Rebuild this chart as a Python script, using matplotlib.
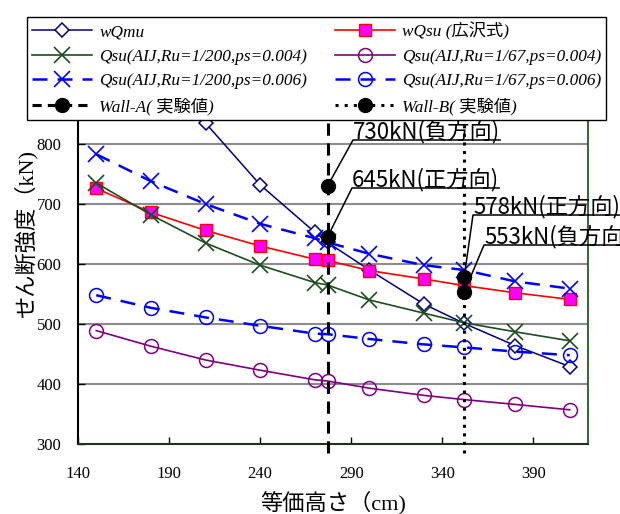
import numpy as np
import matplotlib
matplotlib.use('Agg')
import matplotlib.pyplot as plt
from matplotlib.lines import Line2D
from matplotlib.text import Text

# equivalent height (cm)
h = [150, 180, 210, 240, 270, 277, 300, 330, 352, 380, 410]

wQmu = [1173, 978, 835, 732, 653, 636, 590, 533, 501, 464, 429]
wQsu = [726, 686, 656, 630, 608, 606, 589, 575, 564, 552, 541]
qsu_200_004 = [735, 682, 635, 598, 569, 565, 540, 518, 502, 487, 472]
qsu_67_004 = [489, 463, 440, 423, 407, 405, 393, 381, 374, 366, 357]
qsu_200_006 = [783, 738, 700, 667, 643, 636, 617, 598, 590, 571, 559]
qsu_67_006 = [548, 527, 511, 497, 484, 483, 475, 466, 461, 454, 448]

# test results
wallA_h = 277
wallA_q = [730, 645]
wallB_h = 352
wallB_q = [578, 553]
wall_txt = ['730kN(負方向)', '645kN(正方向)', '578kN(正方向)', '553kN(負方向)']

labels = ['wQmu', 'wQsu (広沢式)', 'Qsu(AIJ,Ru=1/200,ps=0.004)', 'Qsu(AIJ,Ru=1/67,ps=0.004)',
          'Qsu(AIJ,Ru=1/200,ps=0.006)', 'Qsu(AIJ,Ru=1/67,ps=0.006)', 'Wall-A( 実験値)', 'Wall-B( 実験値)']

xticks = [140, 190, 240, 290, 340, 390]
yticks = [300, 400, 500, 600, 700, 800]

serif_jp = ['Liberation Serif', 'Noto Sans CJK JP']
gothic = ['Noto Sans CJK JP', 'DejaVu Sans']

W, H = 620, 514
fig = plt.figure(figsize=(6.2, 5.14), dpi=100)
ax = fig.add_axes([78/W, 70/H, 510/W, 420/H])

for y in [400, 500, 600, 700, 800, 900]:
    ax.axhline(y, color='#8c8c8c', lw=1.5, zorder=1)

l1, = ax.plot(h, wQmu, color='#000080', lw=1.1, marker='D', ms=7, mfc='white', mec='#000080', mew=1.1)
l2, = ax.plot(h, wQsu, color='#ff0000', lw=1.2, marker='s', ms=8, mfc='#ff00ff', mec='#ff0000', mew=1.0)
l3, = ax.plot(h, qsu_200_004, color='#1e4d1e', lw=1.2, marker='x', ms=11, mew=1.2)
l4, = ax.plot(h, qsu_67_004, color='#800080', lw=1.2, marker='o', ms=10, mfc='none', mew=1.1)
l5, = ax.plot(h, qsu_200_006, color='#0000ff', lw=1.8, ls=(0, (6, 4)), marker='x', ms=11, mew=1.2)
l6, = ax.plot(h, qsu_67_006, color='#0000ff', lw=1.8, ls=(0, (6, 4)), marker='o', ms=10, mfc='none', mew=1.1)

# vertical lines at the wall heights
ax.plot([wallA_h, wallA_h], [285, 1000], color='black', lw=2.2, ls=(0, (4, 2.5)), clip_on=False, zorder=3)
ax.plot([wallB_h, wallB_h], [285, 1000], color='black', lw=2.2, ls=(0, (1, 1.8)), clip_on=False, zorder=3)
ax.plot([wallA_h] * 2, wallA_q, ls='none', marker='o', ms=10, color='black', zorder=6)
ax.plot([wallB_h] * 2, wallB_q, ls='none', marker='o', ms=10, color='black', zorder=6)
l7 = Line2D([], [], color='black', lw=2.2, ls=(0, (3, 2)), marker='o', ms=10)
l8 = Line2D([], [], color='black', lw=2.2, ls=(0, (1, 2)), marker='o', ms=10)

ax.set_xlim(140, 420)
ax.set_ylim(300, 1000)
ax.set_xticks(xticks)
ax.set_yticks(yticks)
ax.tick_params(direction='in', length=5, width=1)
ax.tick_params(axis='x', pad=16)
ax.tick_params(axis='y', pad=12)
for t in ax.get_xticklabels() + ax.get_yticklabels():
    t.set_family(serif_jp)
    t.set_fontsize(12)

ax.spines['left'].set_color('black')
ax.spines['bottom'].set_color('#1e331e')
ax.spines['right'].set_color('#3a6a3a')
for s in ax.spines.values():
    s.set_linewidth(1.5)

ax.set_xlabel('等価高さ（cm)', family=serif_jp, fontsize=16, labelpad=6)
ax.set_ylabel('せん断強度（kN)', family=serif_jp, fontsize=16)
ax.yaxis.set_label_coords(-0.080, 0.5)

# annotation texts: baseline position in pixels from top-left
txt_pos = [(353, 138), (352, 186), (473, 213), (484, 243)]
pts = [(wallA_h, wallA_q[0]), (wallA_h, wallA_q[1]), (wallB_h, wallB_q[0]), (wallB_h, wallB_q[1])]
anns = []
for txt, (tx, ty) in zip(wall_txt, txt_pos):
    a = fig.text(tx / W, 1 - ty / H, txt, fontsize=16, family=gothic, ha='left', va='baseline', zorder=7)
    anns.append(a)

handles = [l1, l3, l5, l7, l2, l4, l6, l8]
leg_labels = [labels[0], labels[2], labels[4], labels[6], labels[1], labels[3], labels[5], labels[7]]
leg = fig.legend(handles, leg_labels, loc='upper left', ncol=2,
                 bbox_to_anchor=(27/W, 1 - 17/H), borderaxespad=0,
                 prop=dict(family=serif_jp, style='italic', size=12.4), handlelength=3.5,
                 handletextpad=0.4, labelspacing=0.48, columnspacing=1.6, fancybox=False,
                 framealpha=1, edgecolor='black', borderpad=0.3)
leg.get_frame().set_linewidth(1.0)

# leader lines + underlines
fig.canvas.draw()
renderer = fig.canvas.get_renderer()
for a, (tx, ty), p in zip(anns, txt_pos, pts):
    bb = a.get_window_extent(renderer)
    uy = H - ty - 2
    px, py = ax.transData.transform(p)
    xs = [px, tx, bb.x1]
    ys = [py, uy, uy]
    fig.add_artist(Line2D(xs, ys, transform=None, color='black', lw=1.1, zorder=8))

fig.savefig('out.png', dpi=100)
